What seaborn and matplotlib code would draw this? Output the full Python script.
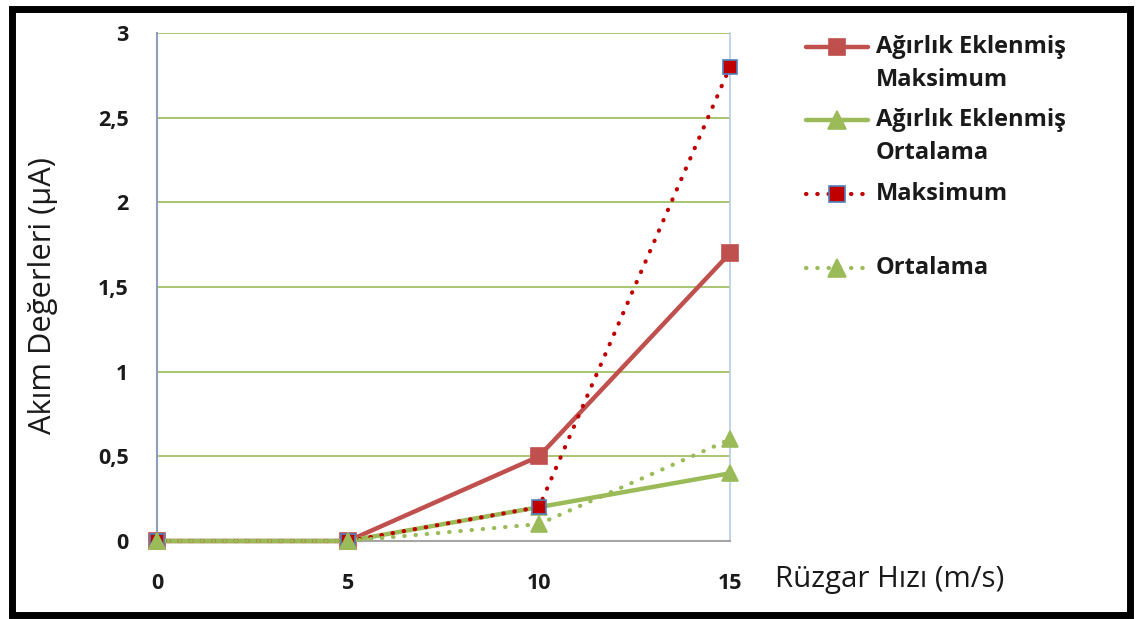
import matplotlib
matplotlib.use("Agg")
import matplotlib.pyplot as plt
from matplotlib.lines import Line2D
from matplotlib.patches import Rectangle
import seaborn as sns
import pandas as pd

# Wind speed (m/s) and measured current values (µA)
wind_speed = [0, 5, 10, 15]
weighted_max = [0, 0, 0.5, 1.7]
weighted_mean = [0, 0, 0.2, 0.4]
maximum = [0, 0, 0.2, 2.8]
mean = [0, 0, 0.1, 0.6]

series_labels = [
    "Ağırlık Eklenmiş\nMaksimum",
    "Ağırlık Eklenmiş\nOrtalama",
    "Maksimum",
    "Ortalama",
]
y_ticks = [0, 0.5, 1, 1.5, 2, 2.5, 3]
y_tick_labels = ["0", "0,5", "1", "1,5", "2", "2,5", "3"]
x_tick_labels = ["0", "5", "10", "15"]
x_label = "Rüzgar Hızı (m/s)"
y_label = "Akım Değerleri (µA)"

df = pd.DataFrame({
    "hiz": wind_speed,
    "agirlikli_maks": weighted_max,
    "agirlikli_ort": weighted_mean,
    "maks": maximum,
    "ort": mean,
})

sns.set_style("white")
plt.rcParams["font.family"] = ["Open Sans", "DejaVu Sans"]

RED = "#C0504D"
DARK_RED = "#C00000"
BLUE = "#4F81BD"
GREEN = "#9BBB59"
TEXT = "#1a1a1a"

styles = [
    dict(col="agirlikli_maks", color=RED, ls="-", marker="s", ms=11, mfc=RED, mec=RED, lw=3.2),
    dict(col="agirlikli_ort", color=GREEN, ls="-", marker="^", ms=12, mfc=GREEN, mec=GREEN, lw=3.2),
    dict(col="maks", color=DARK_RED, ls=(0, (0.1, 2.6)), marker="s", ms=10, mfc=DARK_RED, mec=BLUE, lw=3.0),
    dict(col="ort", color=GREEN, ls=(0, (0.1, 2.6)), marker="^", ms=12, mfc=GREEN, mec=GREEN, lw=3.0),
]

W, H = 1137, 619
fig = plt.figure(figsize=(W / 100, H / 100), dpi=100)
ax = fig.add_axes([157 / W, 1 - 541 / H, (730 - 157) / W, (541 - 33) / H])

for st in styles:
    sns.lineplot(
        data=df, x="hiz", y=st["col"], ax=ax, color=st["color"],
        linestyle=st["ls"], linewidth=st["lw"], marker=st["marker"],
        markersize=st["ms"], markerfacecolor=st["mfc"], markeredgecolor=st["mec"],
        markeredgewidth=1.2, dash_capstyle="round", legend=False, clip_on=False,
        zorder=3,
    )

ax.set_xlim(0, 15)
ax.set_ylim(0, 3)
ax.set_xticks(wind_speed)
ax.set_xticklabels(x_tick_labels)
ax.set_yticks(y_ticks)
ax.set_yticklabels(y_tick_labels)
ax.set_xlabel("")
ax.set_ylabel("")

ax.grid(axis="y", color=GREEN, linewidth=1.2)
ax.grid(axis="x", visible=False)
ax.set_axisbelow(True)

ax.spines["top"].set_visible(False)
ax.spines["left"].set_color("#8EA0B8")
ax.spines["left"].set_linewidth(1.5)
ax.spines["bottom"].set_color("#A6A6A6")
ax.spines["bottom"].set_linewidth(1.5)
ax.spines["right"].set_color("#B8CCE4")
ax.spines["right"].set_linewidth(1.2)

ax.tick_params(axis="y", length=6.5, width=1.2, color="#8C8C8C", pad=14,
               labelsize=15.5, labelcolor=TEXT)
ax.tick_params(axis="x", length=0, pad=23, labelsize=15.5, labelcolor=TEXT)
for lab in ax.get_xticklabels() + ax.get_yticklabels():
    lab.set_fontweight("bold")

def fx(px):
    return px / W

def fy(py):
    return 1 - py / H

fig.text(fx(775), fy(580), x_label, ha="left", va="center", fontsize=21.2, color=TEXT)
fig.text(fx(43), fy(296), y_label, ha="center", va="center", rotation=90,
         fontsize=22.2, color=TEXT)

# Legend drawn in figure coordinates
legend_rows = [47, 120, 194, 268]
for st, label, yrow in zip(styles, series_labels, legend_rows):
    y = fy(yrow)
    fig.add_artist(Line2D([fx(806), fx(868)], [y, y], transform=fig.transFigure,
                          color=st["color"], linestyle=st["ls"], linewidth=st["lw"],
                          dash_capstyle="round"))
    fig.add_artist(Line2D([fx(837)], [y], transform=fig.transFigure,
                          marker=st["marker"], markersize=st["ms"] + 1,
                          markerfacecolor=st["mfc"], markeredgecolor=st["mec"],
                          markeredgewidth=1.2, linestyle="none"))
    lines = label.split("\n")
    for i, text in enumerate(lines):
        fig.text(fx(876), fy(yrow + i * 33), text, ha="left", va="center",
                 fontsize=17, fontweight="bold", color=TEXT)

# Outer frame
fig.add_artist(Rectangle((fx(11.5), fy(615)), fx(1130 - 11.5), (615 - 8.5) / H,
                         transform=fig.transFigure, fill=False, edgecolor="black",
                         linewidth=5))

fig.savefig("out.png", dpi=100)
